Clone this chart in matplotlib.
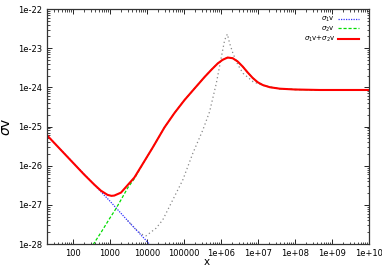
import matplotlib
matplotlib.use("Agg")
import matplotlib.pyplot as plt
from matplotlib.ticker import LogLocator, FixedLocator, NullFormatter

# sigma_1 v  (falls like 1/x)
x_blue = [20, 1000, 3400, 11700, 20000]
y_blue = [6.0e-26, 1.25e-27, 3.5e-28, 1.0e-28, 6.0e-29]

# sigma_2 v  (rising, hidden under the total at large x)
x_green = [300, 361, 600, 1000, 1460, 2000, 3020, 4590, 7700, 14400, 29800, 55600,
           104000, 194000, 361000, 560000, 814000, 1110000, 1520000, 2080000,
           2840000, 3870000, 5290000, 7230000, 9880000, 1.35e7, 2.09e7, 3.9e7,
           9.9e7, 4.7e8, 1e10]
y_green = [7.5e-29, 1.0e-28, 2.1e-28, 4.6e-28, 8.0e-28, 1.35e-27, 2.7e-27, 4.7e-27,
           1.1e-26, 2.92e-26, 9.5e-26, 2.22e-25, 4.77e-25, 9.4e-25, 1.84e-24,
           2.86e-24, 4.07e-24, 5.06e-24, 5.79e-24, 5.56e-24, 4.58e-24, 3.41e-24,
           2.40e-24, 1.74e-24, 1.35e-24, 1.15e-24, 1.01e-24, 9.27e-25, 8.84e-25,
           8.59e-25, 8.59e-25]

# sigma_1 v + sigma_2 v
x_red = [20, 50, 100, 200, 378, 574, 866, 1100, 1316, 2000, 3020, 4590, 7700, 14400,
         29800, 55600, 104000, 194000, 361000, 560000, 814000, 1110000, 1520000,
         2080000, 2840000, 3870000, 5290000, 7230000, 9880000, 1.35e7, 2.09e7,
         3.9e7, 9.9e7, 4.7e8, 1e10]
y_red = [6.0e-26, 2.4e-26, 1.2e-26, 6.0e-27, 3.3e-27, 2.3e-27, 1.8e-27, 1.7e-27,
         1.73e-27, 2.06e-27, 3.2e-27, 5.0e-27, 1.11e-26, 2.93e-26, 9.5e-26, 2.22e-25,
         4.77e-25, 9.4e-25, 1.84e-24, 2.86e-24, 4.07e-24, 5.06e-24, 5.79e-24,
         5.56e-24, 4.58e-24, 3.41e-24, 2.40e-24, 1.74e-24, 1.35e-24, 1.15e-24,
         1.01e-24, 9.27e-25, 8.84e-25, 8.59e-25, 8.59e-25]

# unlabelled grey curve (sharper resonance)
x_gray = [3000, 5000, 7000, 9500, 17800, 26800, 50000, 93300, 174000, 325000,
          494000, 750000, 1030000, 1260000, 1490000, 1720000, 2110000, 2890000,
          3950000, 7370000, 1.35e7, 3.9e7, 1e8, 1e10]
y_gray = [4.0e-28, 2.4e-28, 1.8e-28, 1.62e-28, 2.55e-28, 4.14e-28, 1.34e-27, 4.34e-27,
          2.08e-26, 8.2e-26, 2.4e-25, 1.27e-24, 6.07e-24, 1.62e-23, 2.30e-23, 1.33e-23,
          7.41e-24, 3.73e-24, 2.29e-24, 1.40e-24, 1.12e-24, 9.2e-25, 8.8e-25, 8.59e-25]

x_ticks = [100, 1000, 10000, 100000, 1e6, 1e7, 1e8, 1e9, 1e10]
x_tick_labels = ["100", "1000", "10000", "100000", "1e+06", "1e+07", "1e+08", "1e+09", "1e+10"]
y_ticks = [1e-28, 1e-27, 1e-26, 1e-25, 1e-24, 1e-23, 1e-22]
y_tick_labels = ["1e-28", "1e-27", "1e-26", "1e-25", "1e-24", "1e-23", "1e-22"]

fig = plt.figure(figsize=(3.82, 2.67), dpi=100)
ax = fig.add_axes([0.123, 0.086, 0.843, 0.880])

ax.plot(x_gray, y_gray, color="#888888", lw=0.9, linestyle=(0, (1, 2.2)))
ax.plot(x_blue, y_blue, color="#3030ff", lw=0.9, linestyle=(0, (1, 1)), label=r"$\sigma_1$v")
ax.plot(x_green, y_green, color="#00dd00", lw=0.9, linestyle=(0, (2.5, 1.5)), label=r"$\sigma_2$v")
ax.plot(x_red, y_red, color="red", lw=1.5, label=r"$\sigma_1$v+$\sigma_2$v")

ax.set_xscale("log")
ax.set_yscale("log")
ax.set_xlim(20, 1e10)
ax.set_ylim(1e-28, 1e-22)

ax.xaxis.set_major_locator(FixedLocator(x_ticks))
ax.set_xticklabels(x_tick_labels)
ax.xaxis.set_minor_locator(LogLocator(base=10, subs=range(2, 10), numticks=30))
ax.xaxis.set_minor_formatter(NullFormatter())
ax.yaxis.set_major_locator(FixedLocator(y_ticks))
ax.set_yticklabels(y_tick_labels)
ax.yaxis.set_minor_locator(LogLocator(base=10, subs=range(2, 10), numticks=30))
ax.yaxis.set_minor_formatter(NullFormatter())

ax.tick_params(which="both", direction="in", top=True, right=True, labelsize=6, pad=3.5)
ax.tick_params(which="major", length=3.5, width=0.6)
ax.tick_params(which="minor", length=1.8, width=0.5)
for s in ax.spines.values():
    s.set_linewidth(0.9)
    s.set_color("#333333")

ax.set_xlabel("x", fontsize=7.5, va="baseline")
ax.xaxis.set_label_coords(0.495, -0.089)
ax.set_ylabel(r"$\sigma$v", fontsize=10)
ax.yaxis.set_label_coords(-0.105, 0.5)

leg = ax.legend(loc="upper right", bbox_to_anchor=(0.969, 0.975), frameon=False,
                fontsize=5, markerfirst=False, handlelength=3.0, handletextpad=0.45,
                labelspacing=0.05, borderaxespad=0, borderpad=0)

plt.savefig("out.png", dpi=100)
